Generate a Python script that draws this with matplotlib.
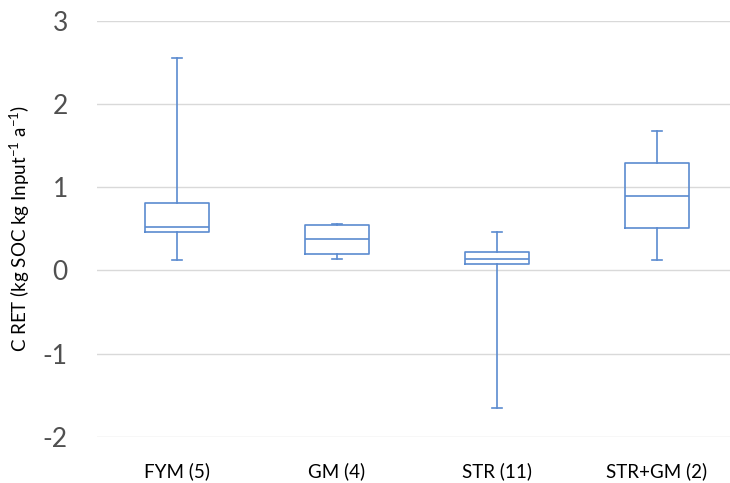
import matplotlib
matplotlib.use("Agg")
import matplotlib.pyplot as plt

# box statistics
groups = ["FYM (5)", "GM (4)", "STR (11)", "STR+GM (2)"]
whislo = [0.12, 0.14, -1.65, 0.12]
q1 = [0.46, 0.20, 0.08, 0.51]
med = [0.52, 0.38, 0.14, 0.90]
q3 = [0.81, 0.55, 0.22, 1.29]
whishi = [2.55, 0.56, 0.46, 1.68]

yticks = [-2, -1, 0, 1, 2, 3]

plt.rcParams['font.family'] = ['Lato', 'DejaVu Sans']
plt.rcParams['mathtext.default'] = 'regular'

blue = '#5B8BD0'

fig = plt.figure(figsize=(7.30, 4.83), dpi=100)
ax = fig.add_axes([97 / 730, 1 - 437 / 483, 1 - 97 / 730, (437 - 20.7) / 483])

stats = []
for i in range(len(groups)):
    stats.append({'label': groups[i], 'whislo': whislo[i], 'q1': q1[i],
                  'med': med[i], 'q3': q3[i], 'whishi': whishi[i]})

line = dict(color=blue, linewidth=1.2)
ax.bxp(stats, positions=range(1, len(groups) + 1), widths=0.4,
       showfliers=False, boxprops=line, medianprops=line,
       whiskerprops=line, capprops=line, capwidths=0.065)

ax.set_ylim(-2, 3)
ax.set_xlim(0.5, 0.5 + (730 - 97) / 160)
ax.set_yticks(yticks)
ax.set_yticklabels([str(t) for t in yticks])
ax.yaxis.grid(True, color='#D9D9D9', linewidth=1)
ax.set_axisbelow(True)
for s in ax.spines.values():
    s.set_visible(False)
ax.tick_params(axis='both', length=0)
ax.tick_params(axis='y', labelsize=19, pad=21, labelcolor='#505050')
ax.tick_params(axis='x', labelsize=13.5, pad=18, labelcolor='#000000')

ax.set_ylabel('C RET (kg SOC kg Input$^{-1}$ a$^{-1}$)', fontsize=13.5)
ax.yaxis.set_label_coords((32 - 97) / 633, 0.5)

fig.savefig('out.png', dpi=100)
